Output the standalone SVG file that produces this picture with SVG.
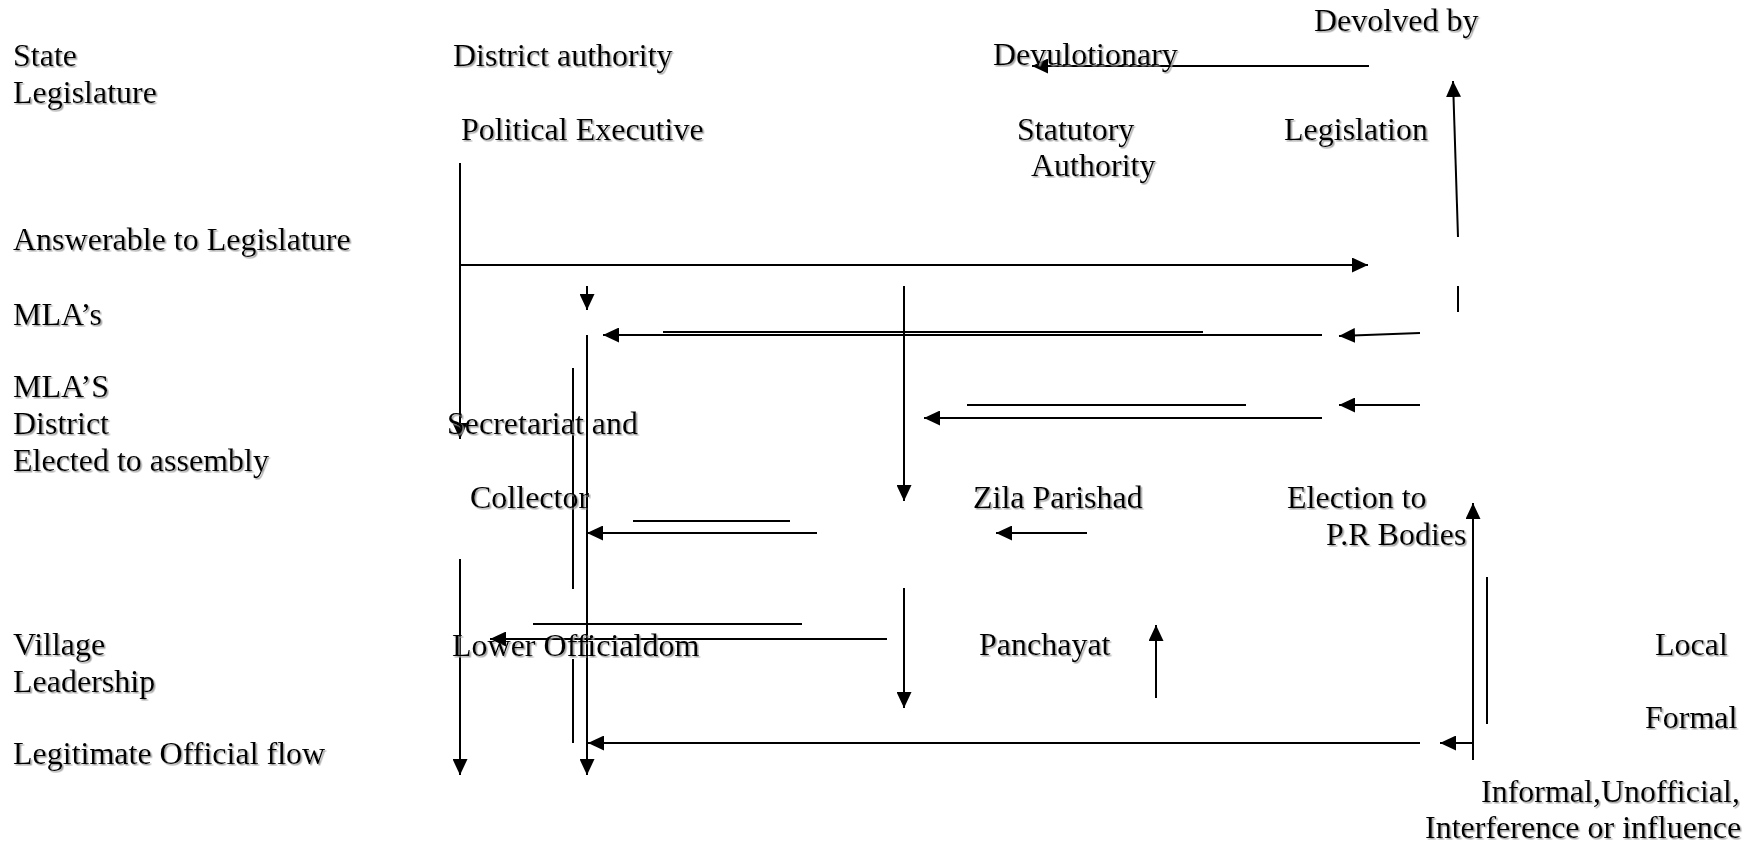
<svg xmlns="http://www.w3.org/2000/svg" width="1758" height="846" viewBox="0 0 1758 846">
<style>
text{font-family:"Liberation Serif","Times New Roman",serif;font-size:32px;fill:#000;filter:url(#sh)}
.c line,.c polyline{stroke:#000;stroke-width:2;fill:none}
.c .a{marker-end:url(#ah)}
</style>
<defs>
<filter id="sh" x="-5%" y="-20%" width="110%" height="140%">
<feDropShadow dx="1.5" dy="1.5" stdDeviation="0.6" flood-color="#999" flood-opacity="0.9"/>
</filter>
<marker id="ah" markerUnits="userSpaceOnUse" markerWidth="16" markerHeight="15" refX="16" refY="7.5" orient="auto">
<path d="M0,0 L16,7.5 L0,15 z" fill="#000"/>
</marker>
</defs>
<rect width="1758" height="846" fill="#fff"/>
<g class="c" id="connectors">
<line class="a" x1="1369" y1="66" x2="1032" y2="66"/>
<line class="a" x1="1458" y1="237" x2="1453" y2="81"/>
<line x1="1458" y1="286" x2="1458" y2="312"/>
<line class="a" x1="460" y1="163" x2="460" y2="439"/>
<line class="a" x1="460" y1="265" x2="1368" y2="265"/>
<line class="a" x1="587" y1="286" x2="587" y2="310"/>
<line class="a" x1="587" y1="335" x2="587" y2="775"/>
<line x1="573" y1="368" x2="573" y2="589"/>
<line x1="573" y1="659" x2="573" y2="743"/>
<line class="a" x1="460" y1="559" x2="460" y2="775"/>
<line x1="663" y1="332" x2="1203" y2="332"/>
<line class="a" x1="1322" y1="335" x2="603" y2="335"/>
<line class="a" x1="1420" y1="333" x2="1339" y2="336"/>
<line x1="967" y1="405" x2="1246" y2="405"/>
<line class="a" x1="1322" y1="418" x2="924" y2="418"/>
<line class="a" x1="1420" y1="405" x2="1339" y2="405"/>
<line class="a" x1="904" y1="286" x2="904" y2="501"/>
<line x1="633" y1="521" x2="790" y2="521"/>
<line class="a" x1="817" y1="533" x2="587" y2="533"/>
<line class="a" x1="1087" y1="533" x2="996" y2="533"/>
<line class="a" x1="1473" y1="760" x2="1473" y2="503"/>
<line x1="1487" y1="577" x2="1487" y2="724"/>
<line class="a" x1="1473" y1="743" x2="1440" y2="743"/>
<line class="a" x1="1420" y1="743" x2="588" y2="743"/>
<line x1="533" y1="624" x2="802" y2="624"/>
<line class="a" x1="887" y1="639" x2="490" y2="639"/>
<line class="a" x1="904" y1="588" x2="904" y2="708"/>
<line class="a" x1="1156" y1="698" x2="1156" y2="625"/>
</g>
<g id="state-legislature"><text x="13" y="66">State</text><text x="13" y="103">Legislature</text></g>
<g id="district-authority"><text x="453" y="66">District authority</text></g>
<g id="political-executive"><text x="461" y="140">Political Executive</text></g>
<g id="devulotionary"><text x="993" y="65">Devulotionary</text></g>
<g id="devolved-by"><text x="1314" y="31">Devolved by</text></g>
<g id="statutory-authority"><text x="1017" y="140">Statutory</text><text x="1031" y="176">Authority</text></g>
<g id="legislation"><text x="1284" y="140">Legislation</text></g>
<g id="answerable"><text x="13" y="250">Answerable to Legislature</text></g>
<g id="mlas"><text x="13" y="325">MLA’s</text></g>
<g id="mlas-district"><text x="13" y="397">MLA’S</text><text x="13" y="434">District</text><text x="13" y="471">Elected to assembly</text></g>
<g id="secretariat"><text x="447" y="434">Secretariat and</text></g>
<g id="collector"><text x="470" y="508">Collector</text></g>
<g id="zila-parishad"><text x="973" y="508">Zila Parishad</text></g>
<g id="election"><text x="1287" y="508">Election to</text><text x="1326" y="545">P.R Bodies</text></g>
<g id="village-leadership"><text x="13" y="655">Village</text><text x="13" y="692">Leadership</text></g>
<g id="lower-officialdom"><text x="452" y="656">Lower Officialdom</text></g>
<g id="panchayat"><text x="979" y="655">Panchayat</text></g>
<g id="local"><text x="1655" y="655">Local </text></g>
<g id="formal"><text x="1645" y="728">Formal</text></g>
<g id="legitimate"><text x="13" y="764">Legitimate Official flow</text></g>
<g id="informal"><text x="1481" y="802">Informal,Unofficial,</text><text x="1425" y="838">Interference or influence</text></g>
</svg>
